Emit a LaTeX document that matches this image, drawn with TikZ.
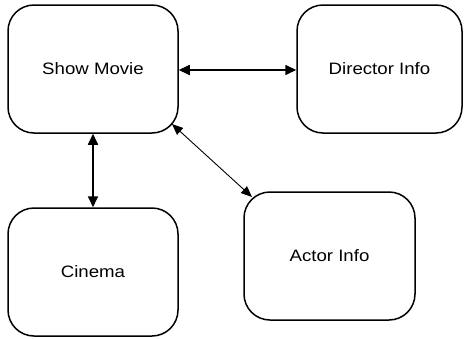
\documentclass[tikz,border=0pt]{standalone}
\usepackage{fontspec}
\setmainfont{Liberation Sans}
\usetikzlibrary{arrows.meta}
\newcommand{\wtxt}[1]{\scalebox{1.13}[1]{#1}}
\tikzset{
  box/.style={draw, line width=1.5pt, rounded corners=26pt, minimum width=170pt, minimum height=128pt, inner sep=0pt, align=center, font=\fontsize{16.5}{18}\selectfont},
  thick2/.style={line width=1.7pt, {Triangle[length=11pt,width=10pt]}-{Triangle[length=11pt,width=10pt]}},
  thin2/.style={line width=0.9pt, {Triangle[length=11pt,width=9pt]}-{Triangle[length=11pt,width=9pt]}}
}
\begin{document}
\begin{tikzpicture}[x=1pt,y=-1pt]
\useasboundingbox (0,0) rectangle (464,338);
\node[box] (show) at (93,69) {\wtxt{Show Movie}};
\node[box, minimum width=165pt] (dir) at (379.5,69) {\wtxt{Director Info}};
\node[box] (cin) at (93,272) {\wtxt{Cinema}};
\node[box, minimum width=171pt] (act) at (329.5,256) {\wtxt{Actor Info}};
\draw[thick2] (show.east |- 0,70) -- (dir.west |- 0,70);
\draw[thick2] (show.south -| 93,0) -- (cin.north -| 93,0);
\coordinate (sa) at (172,124);
\coordinate (as) at (252,197);
\draw[thin2] (sa) -- (as);
\end{tikzpicture}
\end{document}
